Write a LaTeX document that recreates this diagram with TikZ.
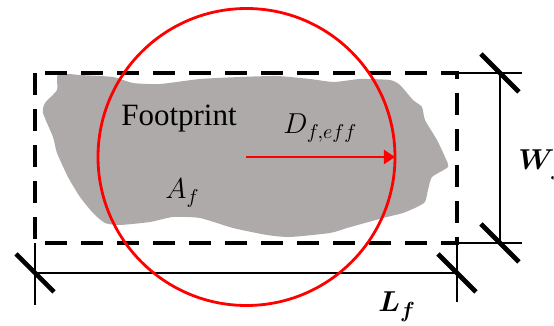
\documentclass[tikz,border=0pt]{standalone}
\usepackage{fontspec}
\setmainfont{Liberation Serif}
\usepackage{bm}
\usetikzlibrary{arrows.meta}
\definecolor{blobgray}{RGB}{174,170,170}

\begin{document}
\begin{tikzpicture}[
  x=0.5pt, y=-0.5pt,
  frame/.style={draw, line width=2pt, dash pattern=on 11pt off 7pt},
  dimline/.style={line width=1pt},
  tick/.style={line width=2.3pt},
  arrow/.style={-{Triangle[length=5.5pt, width=7pt]}, draw=red, line width=1pt},
  lbl/.style={inner sep=0pt, font=\fontsize{15.5}{18}\selectfont},
  sym/.style={inner sep=0pt, font=\fontsize{14}{17}\selectfont},
  dimlbl/.style={inner sep=0pt, font=\fontsize{15}{18}\selectfont},
]
  \useasboundingbox (0,0) rectangle (554,326);

  % footprint
  \fill[blobgray] plot[smooth cycle, tension=.35] coordinates {
    (58,74) (80,75) (113,77) (133,83) (160,84) (200,79) (240,77) (277,76)
    (310,79) (334,82) (360,79) (390,80) (400,85) (413,100) (422,107) (425,120)
    (437,140) (445,157) (448,167) (432,177) (428,190) (425,202) (417,207)
    (403,213) (383,218) (347,228) (330,233) (290,237) (267,235) (233,228)
    (200,218) (173,217) (150,222) (120,225) (105,223) (93,213) (80,197)
    (68,177) (57,153) (53,137) (43,113) (45,103) (57,90)};

  % bounding box of the footprint
  \coordinate (nw) at (35,73);
  \coordinate (ne) at (457,73);
  \coordinate (sw) at (35,243);
  \coordinate (se) at (457,243);
  \draw[frame] (nw) rectangle (se);

  % dimension lines
  \coordinate (lA) at (35,305);
  \coordinate (lB) at (457,302);
  \coordinate (l1) at (35,273);
  \coordinate (l2) at (457,273);
  \coordinate (wA) at (522,73);
  \coordinate (wB) at (522,243);
  \coordinate (w1) at (500,73);
  \coordinate (w2) at (500,243);
  \draw[dimline] (sw) -- (lA);
  \draw[dimline] (se) -- (lB);
  \draw[dimline] (l1) -- (l2);
  \draw[dimline] (ne) -- (wA);
  \draw[dimline] (se) -- (wB);
  \draw[dimline] (w1) -- (w2);
  \foreach \p in {l1,l2,w1,w2}
    \draw[tick] (\p) +(-19,-19) -- +(19,19);

  % effective circle
  \node[draw=red, circle, line width=1.4pt, minimum size=148.5pt,
        inner sep=0pt, outer sep=0pt] (ring) at (246.5,157) {};
  \draw[arrow] (ring.center) -- (ring.east);

  \node[lbl, anchor=base] (foot) at (179,126) {Footprint};
  \node[sym, anchor=base west] (area) at (165,199) {$A_f$};
  \node[sym, anchor=base west] (diam) at (283,134) {$D_{f,eff}$};
  \node[dimlbl, anchor=base west] (len) at (378,312) {$\bm{L_f}$};
  \node[dimlbl, anchor=base west] (wid) at (518,170) {$\bm{W_f}$};
\end{tikzpicture}
\end{document}
